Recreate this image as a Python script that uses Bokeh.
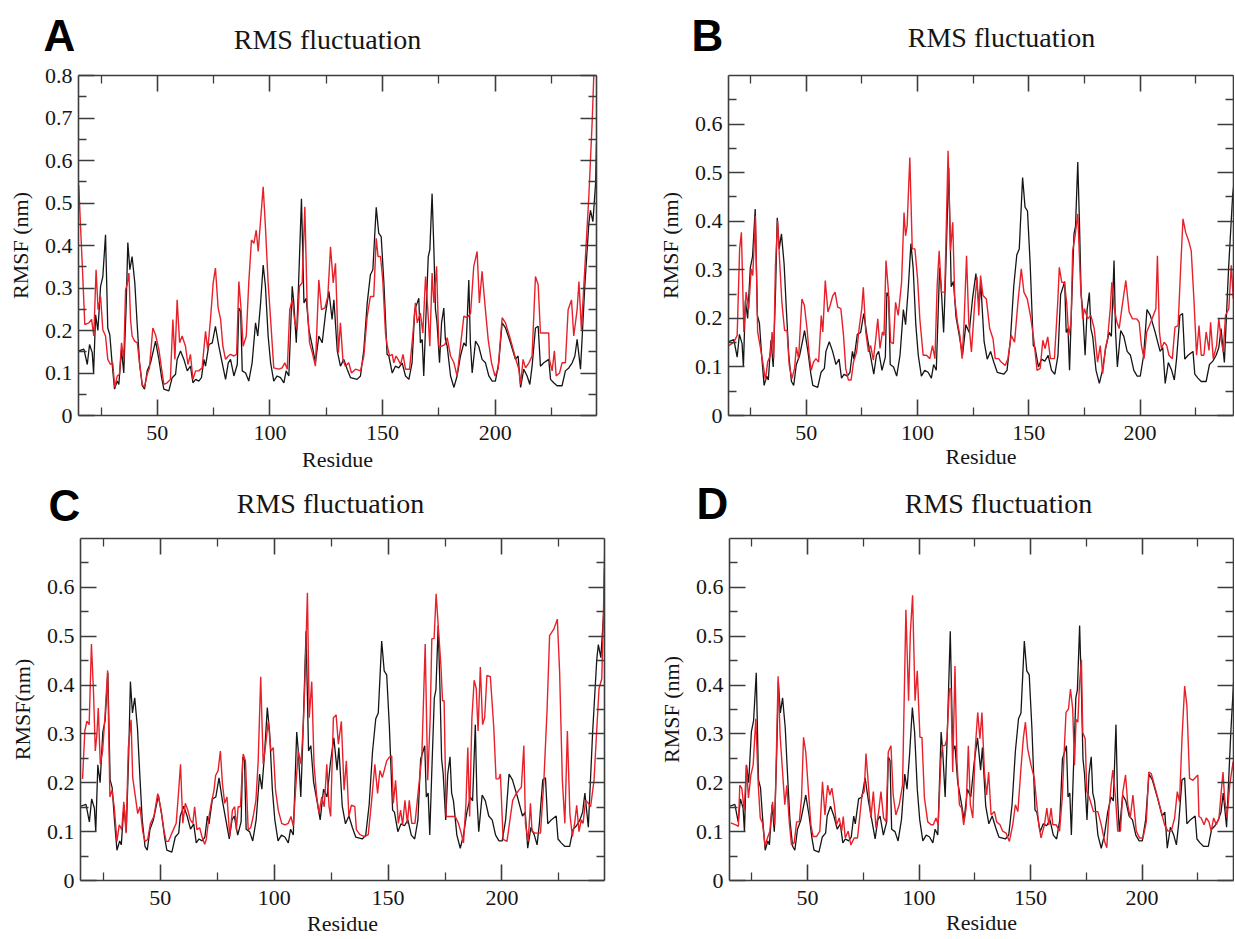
import math
from bokeh.plotting import figure
from bokeh.models import Range1d, FixedTicker, LinearAxis, Label, CustomJSTickFormatter
from bokeh.layouts import row, column
from bokeh.embed import file_html
from bokeh.resources import INLINE

# ---------------- data ----------------
residue_black = [
    15.1, 17.4, 18.9, 19.9, 21.1, 21.7, 22.6, 23.6, 24.8, 25.8,
    27.0, 28.0, 28.9, 29.9, 31.0, 32.2, 32.9, 34.1, 35.1, 36.2,
    36.9, 37.8, 38.8, 40.0, 41.1, 42.1, 43.3, 44.3, 45.5, 47.0,
    49.2, 50.7, 51.9, 52.9, 55.1, 56.6, 58.1, 58.8, 60.3, 61.8,
    63.3, 64.7, 65.8, 67.0, 68.4, 69.6, 70.7, 71.4, 72.9, 74.4,
    75.8, 77.3, 78.8, 80.3, 81.5, 82.5, 84.0, 85.5, 86.2, 87.0,
    87.7, 89.2, 90.6, 92.1, 93.6, 94.6, 95.8, 97.0, 98.0, 99.2,
    100.3, 101.7, 103.2, 104.7, 106.2, 107.2, 108.4, 109.9, 110.6, 111.7,
    112.6, 114.0, 115.1, 116.1, 117.3, 118.8, 120.2, 121.7, 123.2, 124.7,
    126.2, 127.6, 128.4, 129.9, 131.3, 132.8, 134.3, 135.8, 138.7, 140.2,
    141.7, 143.2, 144.6, 145.7, 147.2, 148.3, 149.4, 150.6, 152.0, 152.8,
    154.3, 155.7, 157.2, 158.7, 160.2, 161.7, 163.1, 164.3, 165.4, 166.1,
    166.8, 167.6, 168.3, 169.1, 170.3, 171.0, 172.0, 172.8, 173.5, 174.2,
    175.3, 176.2, 177.2, 177.9, 178.7, 180.2, 181.7, 183.1, 184.6, 186.1,
    187.1, 188.3, 189.0, 189.8, 191.3, 192.7, 194.2, 195.7, 197.2, 198.7,
    200.1, 201.6, 203.1, 204.6, 206.8, 209.0, 210.2, 211.3, 212.7, 214.2,
    215.4, 216.4, 217.9, 219.1, 220.1, 221.6, 223.8, 224.6, 226.0, 227.5,
    229.7, 231.2, 232.7, 234.2, 235.4, 236.4, 237.9, 239.8, 241.6, 242.3,
    243.4, 244.6, 245.0,
]
rmsf_black = [
    0.152, 0.156, 0.120, 0.167, 0.148, 0.100, 0.237, 0.200, 0.304, 0.327,
    0.425, 0.206, 0.190, 0.124, 0.062, 0.081, 0.073, 0.155, 0.100, 0.265,
    0.407, 0.343, 0.374, 0.312, 0.210, 0.124, 0.070, 0.062, 0.105, 0.124,
    0.175, 0.132, 0.089, 0.062, 0.058, 0.089, 0.097, 0.132, 0.152, 0.132,
    0.105, 0.116, 0.077, 0.085, 0.081, 0.089, 0.132, 0.116, 0.167, 0.171,
    0.210, 0.163, 0.124, 0.085, 0.124, 0.132, 0.093, 0.120, 0.253, 0.245,
    0.105, 0.100, 0.081, 0.124, 0.218, 0.187, 0.261, 0.354, 0.304, 0.187,
    0.124, 0.081, 0.093, 0.089, 0.077, 0.105, 0.093, 0.304, 0.265, 0.171,
    0.292, 0.510, 0.265, 0.276, 0.202, 0.163, 0.124, 0.187, 0.171, 0.241,
    0.292, 0.226, 0.272, 0.152, 0.116, 0.132, 0.109, 0.089, 0.085, 0.093,
    0.155, 0.265, 0.331, 0.343, 0.490, 0.429, 0.421, 0.312, 0.144, 0.140,
    0.100, 0.116, 0.112, 0.124, 0.093, 0.085, 0.124, 0.249, 0.265, 0.276,
    0.171, 0.179, 0.093, 0.210, 0.374, 0.390, 0.522, 0.390, 0.249, 0.218,
    0.124, 0.218, 0.253, 0.179, 0.163, 0.093, 0.066, 0.093, 0.140, 0.171,
    0.163, 0.319, 0.171, 0.100, 0.175, 0.163, 0.132, 0.124, 0.093, 0.081,
    0.081, 0.124, 0.218, 0.206, 0.171, 0.132, 0.140, 0.066, 0.109, 0.093,
    0.073, 0.116, 0.206, 0.210, 0.116, 0.124, 0.132, 0.085, 0.077, 0.070,
    0.070, 0.105, 0.112, 0.124, 0.140, 0.179, 0.109, 0.304, 0.452, 0.483,
    0.456, 0.546, 0.640,
]

residue_red_a = [
    15.1, 16.9, 17.8, 19.6, 20.8, 21.8, 22.8, 23.7, 24.8, 25.8,
    27.0, 28.0, 29.2, 30.2, 31.1, 32.2, 33.2, 34.1, 35.1, 35.9,
    36.6, 37.4, 38.1, 38.8, 39.9, 41.1, 42.1, 43.3, 44.3, 45.5,
    46.5, 48.0, 49.2, 50.7, 51.9, 52.9, 54.4, 55.8, 56.9, 57.8,
    58.8, 59.9, 61.0, 62.5, 63.6, 64.7, 65.8, 67.0, 68.4, 69.9,
    71.4, 72.4, 73.6, 74.8, 75.8, 77.0, 78.1, 79.1, 80.3, 81.5,
    82.5, 84.0, 85.2, 86.2, 87.2, 88.1, 89.5, 90.6, 91.8, 92.9,
    93.9, 94.8, 95.8, 97.0, 98.0, 99.2, 100.3, 101.7, 104.0, 105.4,
    106.6, 107.7, 108.8, 109.9, 111.1, 112.1, 113.1, 114.3, 115.5, 116.5,
    117.6, 118.8, 120.2, 121.7, 122.9, 124.4, 125.7, 126.9, 128.1, 129.1,
    130.4, 131.3, 132.4, 133.5, 135.0, 136.2, 138.0, 140.2, 141.7, 143.2,
    144.6, 146.1, 147.2, 148.0, 149.1, 150.1, 151.3, 152.0, 153.1, 154.3,
    155.0, 156.0, 156.9, 158.0, 159.1, 160.2, 162.0, 163.4, 164.6, 165.4,
    166.8, 167.9, 169.1, 170.1, 171.0, 172.0, 172.8, 174.0, 175.0, 176.2,
    177.7, 178.7, 180.2, 181.7, 183.1, 184.6, 186.1, 187.6, 189.1, 190.5,
    192.0, 193.0, 194.2, 195.4, 196.9, 198.4, 199.9, 201.3, 203.1, 204.6,
    206.8, 209.0, 210.5, 211.3, 212.4, 213.5, 215.0, 216.4, 217.9, 219.1,
    220.1, 223.8, 224.1, 225.3, 226.3, 227.1, 228.6, 229.7, 231.2, 232.4,
    233.9, 234.9, 236.4, 237.2, 238.3, 240.1, 241.6, 243.1, 243.8, 245.0,
]
rmsf_red_a = [
    0.542, 0.327, 0.214, 0.218, 0.226, 0.187, 0.343, 0.249, 0.280, 0.202,
    0.187, 0.132, 0.120, 0.124, 0.066, 0.093, 0.097, 0.171, 0.132, 0.296,
    0.308, 0.335, 0.226, 0.187, 0.175, 0.171, 0.124, 0.073, 0.066, 0.097,
    0.112, 0.206, 0.190, 0.155, 0.109, 0.073, 0.077, 0.085, 0.226, 0.132,
    0.272, 0.171, 0.187, 0.163, 0.120, 0.144, 0.085, 0.105, 0.105, 0.112,
    0.198, 0.155, 0.226, 0.312, 0.347, 0.253, 0.226, 0.163, 0.132, 0.140,
    0.144, 0.140, 0.144, 0.315, 0.249, 0.163, 0.187, 0.312, 0.413, 0.405,
    0.436, 0.386, 0.456, 0.538, 0.444, 0.312, 0.226, 0.112, 0.109, 0.112,
    0.124, 0.109, 0.249, 0.272, 0.218, 0.202, 0.304, 0.312, 0.491, 0.265,
    0.171, 0.148, 0.116, 0.319, 0.249, 0.253, 0.280, 0.397, 0.312, 0.358,
    0.148, 0.218, 0.132, 0.116, 0.124, 0.100, 0.109, 0.105, 0.140, 0.234,
    0.280, 0.280, 0.417, 0.374, 0.374, 0.319, 0.194, 0.167, 0.140, 0.144,
    0.124, 0.140, 0.132, 0.120, 0.144, 0.109, 0.109, 0.187, 0.265, 0.218,
    0.241, 0.194, 0.327, 0.249, 0.163, 0.335, 0.265, 0.351, 0.163, 0.163,
    0.167, 0.183, 0.140, 0.124, 0.093, 0.163, 0.234, 0.230, 0.241, 0.351,
    0.386, 0.265, 0.339, 0.265, 0.179, 0.124, 0.093, 0.109, 0.230, 0.218,
    0.179, 0.136, 0.109, 0.073, 0.132, 0.112, 0.124, 0.140, 0.327, 0.308,
    0.194, 0.194, 0.132, 0.105, 0.152, 0.093, 0.100, 0.124, 0.124, 0.249,
    0.272, 0.187, 0.249, 0.315, 0.202, 0.374, 0.515, 0.694, 0.800, 0.850,
]

residue_red_b = [
    15.2, 17.4, 18.9, 20.0, 20.8, 21.9, 22.9, 24.1, 25.2, 25.9,
    27.1, 28.1, 29.3, 30.4, 31.6, 32.6, 33.8, 34.6, 35.3, 36.1,
    37.1, 38.0, 39.0, 40.2, 41.3, 42.3, 43.5, 44.7, 45.5, 46.5,
    48.0, 49.1, 50.3, 51.3, 52.2, 53.2, 54.3, 55.5, 56.7, 57.4,
    58.5, 59.7, 60.7, 61.9, 62.9, 64.1, 65.5, 66.7, 67.7, 68.9,
    70.1, 71.2, 72.6, 73.7, 74.9, 75.6, 76.7, 77.9, 78.9, 80.1,
    81.2, 82.1, 83.1, 84.2, 84.9, 85.8, 86.8, 87.9, 89.1, 90.1,
    91.3, 92.8, 93.9, 94.6, 95.3, 96.5, 97.6, 98.8, 100.0, 101.0,
    102.5, 104.0, 105.5, 106.7, 107.8, 108.8, 109.7, 110.7, 112.2, 113.7,
    114.8, 115.8, 116.7, 117.9, 119.0, 120.0, 120.9, 122.0, 123.0, 124.2,
    125.7, 126.7, 127.5, 128.3, 129.4, 130.9, 132.4, 133.9, 134.9, 136.4,
    137.6, 139.4, 140.6, 142.1, 143.6, 145.1, 146.6, 147.8, 149.3, 150.7,
    152.2, 153.7, 155.1, 156.3, 157.3, 158.5, 159.7, 161.5, 163.0, 163.7,
    164.8, 166.0, 167.0, 167.9, 169.0, 169.7, 170.8, 172.0, 173.2, 174.2,
    175.0, 176.4, 177.9, 179.4, 180.9, 182.1, 183.2, 184.4, 185.4, 186.6,
    187.3, 188.4, 189.6, 190.6, 191.8, 193.6, 195.1, 196.6, 198.5, 199.6,
    200.6, 201.8, 203.0, 204.8, 207.1, 207.8, 208.7, 209.6, 210.8, 212.0,
    213.0, 214.5, 215.7, 217.1, 218.3, 219.3, 220.5, 222.0, 223.0, 224.2,
    225.4, 226.5, 227.5, 228.7, 229.7, 231.0, 231.7, 232.9, 234.4, 235.4,
    236.5, 237.4, 238.4, 239.9, 241.0, 241.9, 242.5,
]
rmsf_red_b = [
    0.144, 0.151, 0.165, 0.343, 0.377, 0.172, 0.254, 0.220, 0.302, 0.288,
    0.411, 0.172, 0.141, 0.110, 0.073, 0.110, 0.124, 0.172, 0.117, 0.309,
    0.401, 0.316, 0.233, 0.175, 0.175, 0.103, 0.076, 0.097, 0.141, 0.117,
    0.240, 0.227, 0.179, 0.124, 0.093, 0.110, 0.117, 0.110, 0.206, 0.172,
    0.278, 0.213, 0.227, 0.247, 0.254, 0.223, 0.220, 0.165, 0.097, 0.073,
    0.073, 0.110, 0.131, 0.179, 0.220, 0.264, 0.172, 0.131, 0.144, 0.114,
    0.158, 0.199, 0.138, 0.172, 0.165, 0.319, 0.261, 0.151, 0.148, 0.233,
    0.206, 0.274, 0.418, 0.370, 0.391, 0.531, 0.343, 0.343, 0.281, 0.199,
    0.124, 0.124, 0.117, 0.144, 0.117, 0.268, 0.339, 0.254, 0.254, 0.545,
    0.339, 0.398, 0.240, 0.192, 0.165, 0.117, 0.192, 0.329, 0.192, 0.131,
    0.233, 0.285, 0.206, 0.288, 0.247, 0.240, 0.179, 0.158, 0.117, 0.117,
    0.110, 0.103, 0.117, 0.165, 0.151, 0.233, 0.302, 0.254, 0.240, 0.206,
    0.158, 0.093, 0.097, 0.155, 0.138, 0.162, 0.117, 0.117, 0.233, 0.305,
    0.274, 0.274, 0.233, 0.165, 0.192, 0.339, 0.370, 0.415, 0.274, 0.199,
    0.220, 0.199, 0.206, 0.179, 0.110, 0.144, 0.086, 0.138, 0.158, 0.220,
    0.274, 0.220, 0.192, 0.179, 0.220, 0.278, 0.213, 0.199, 0.199, 0.192,
    0.144, 0.117, 0.172, 0.192, 0.220, 0.329, 0.172, 0.138, 0.151, 0.144,
    0.124, 0.117, 0.182, 0.185, 0.309, 0.405, 0.377, 0.357, 0.339, 0.240,
    0.124, 0.185, 0.124, 0.124, 0.172, 0.134, 0.192, 0.117, 0.144, 0.199,
    0.155, 0.131, 0.206, 0.220, 0.309, 0.240, 0.322,
]

residue_red_c = [
    15.9, 16.9, 17.8, 18.8, 19.8, 20.7, 21.5, 22.2, 22.8, 23.7,
    24.7, 25.7, 26.9, 27.9, 28.8, 29.8, 31.0, 32.0, 33.1, 34.0,
    35.0, 36.0, 37.2, 37.9, 38.9, 40.1, 41.1, 42.3, 43.3, 44.5,
    45.7, 47.2, 48.9, 50.4, 51.6, 52.6, 53.6, 55.1, 57.0, 58.0,
    58.9, 59.9, 61.0, 62.1, 63.2, 64.3, 65.1, 66.1, 67.3, 68.3,
    69.5, 70.2, 71.4, 72.4, 73.6, 74.3, 75.4, 76.4, 77.3, 78.3,
    79.3, 80.5, 81.7, 82.7, 83.4, 84.2, 85.2, 86.4, 87.4, 88.6,
    89.7, 90.8, 92.0, 93.0, 94.1, 95.2, 96.3, 97.4, 98.6, 99.6,
    100.6, 101.8, 103.3, 104.7, 106.2, 107.4, 108.4, 109.4, 110.6, 111.8,
    112.8, 113.5, 114.6, 115.4, 116.5, 117.5, 118.7, 119.7, 120.9, 122.0,
    123.1, 124.1, 124.8, 126.0, 127.2, 128.2, 129.5, 130.7, 131.7, 132.8,
    133.9, 135.4, 136.1, 137.6, 139.8, 141.3, 142.8, 144.2, 145.4, 146.4,
    147.5, 148.3, 149.4, 150.5, 151.6, 152.3, 153.3, 154.5, 155.5, 156.4,
    157.4, 158.5, 159.3, 160.4, 161.8, 163.3, 164.8, 166.3, 167.4, 168.5,
    169.2, 170.2, 171.1, 172.1, 173.2, 173.9, 174.6, 175.5, 177.3, 179.5,
    180.9, 182.1, 183.1, 184.2, 185.0, 185.8, 186.8, 187.8, 188.7, 189.5,
    190.5, 191.5, 192.4, 193.4, 194.9, 196.4, 197.4, 198.6, 199.3, 200.5,
    202.2, 203.7, 204.7, 205.9, 207.4, 208.5, 209.6, 210.3, 211.5, 212.5,
    213.2, 214.7, 216.9, 218.4, 219.8, 220.9, 222.8, 224.3, 225.3, 226.5,
    227.6, 228.7, 229.8, 230.9, 231.9, 232.8, 233.8, 234.8, 235.6, 236.7,
    237.9, 238.9, 240.4, 241.4, 242.6, 243.8, 244.5, 245.3,
]
rmsf_red_c = [
    0.208, 0.306, 0.326, 0.319, 0.484, 0.387, 0.265, 0.299, 0.353, 0.238,
    0.265, 0.333, 0.430, 0.171, 0.185, 0.151, 0.080, 0.114, 0.104, 0.161,
    0.097, 0.272, 0.329, 0.211, 0.178, 0.137, 0.151, 0.101, 0.080, 0.084,
    0.117, 0.131, 0.178, 0.144, 0.104, 0.080, 0.080, 0.097, 0.117, 0.178,
    0.238, 0.117, 0.158, 0.144, 0.124, 0.117, 0.151, 0.104, 0.108, 0.090,
    0.074, 0.084, 0.131, 0.158, 0.185, 0.215, 0.225, 0.265, 0.198, 0.158,
    0.171, 0.090, 0.144, 0.151, 0.104, 0.151, 0.151, 0.259, 0.245, 0.104,
    0.108, 0.131, 0.164, 0.245, 0.417, 0.238, 0.279, 0.326, 0.265, 0.272,
    0.185, 0.144, 0.117, 0.114, 0.117, 0.131, 0.111, 0.185, 0.265, 0.238,
    0.319, 0.407, 0.589, 0.333, 0.407, 0.238, 0.171, 0.137, 0.171, 0.151,
    0.238, 0.151, 0.131, 0.333, 0.339, 0.279, 0.326, 0.185, 0.245, 0.131,
    0.154, 0.151, 0.104, 0.094, 0.090, 0.094, 0.164, 0.238, 0.178, 0.225,
    0.211, 0.225, 0.245, 0.252, 0.255, 0.158, 0.205, 0.117, 0.144, 0.114,
    0.164, 0.117, 0.164, 0.117, 0.117, 0.185, 0.252, 0.484, 0.205, 0.333,
    0.495, 0.495, 0.587, 0.515, 0.440, 0.368, 0.368, 0.131, 0.131, 0.131,
    0.117, 0.097, 0.077, 0.158, 0.272, 0.131, 0.333, 0.410, 0.393, 0.306,
    0.437, 0.319, 0.333, 0.420, 0.417, 0.313, 0.208, 0.208, 0.218, 0.084,
    0.080, 0.131, 0.164, 0.175, 0.185, 0.191, 0.276, 0.117, 0.080, 0.158,
    0.100, 0.097, 0.097, 0.205, 0.350, 0.501, 0.515, 0.535, 0.427, 0.205,
    0.117, 0.306, 0.137, 0.090, 0.117, 0.154, 0.100, 0.124, 0.117, 0.164,
    0.158, 0.151, 0.205, 0.292, 0.393, 0.413, 0.541, 0.720,
]

residue_red_d = [
    15.6, 17.8, 19.0, 19.6, 20.5, 21.6, 22.6, 23.5, 24.6, 25.6,
    26.8, 27.9, 28.8, 29.8, 31.0, 32.0, 33.1, 34.3, 35.3, 36.1,
    36.8, 37.7, 38.8, 39.8, 40.7, 41.8, 42.8, 44.0, 45.1, 46.3,
    47.3, 48.2, 49.2, 50.3, 51.5, 52.5, 54.0, 55.5, 56.7, 57.8,
    59.0, 60.0, 60.9, 62.0, 63.0, 64.2, 65.3, 66.0, 66.9, 68.2,
    69.4, 70.9, 72.4, 73.5, 74.4, 75.4, 76.2, 77.4, 78.4, 79.5,
    80.7, 81.9, 82.9, 84.1, 85.2, 86.2, 87.4, 88.4, 89.6, 91.1,
    92.6, 94.1, 95.3, 96.1, 97.1, 98.2, 99.2, 100.4, 101.3, 102.4,
    103.9, 105.4, 106.4, 107.6, 108.6, 109.8, 110.6, 111.6, 112.5, 113.6,
    114.3, 115.1, 116.1, 117.0, 118.1, 119.1, 120.0, 121.1, 122.1, 123.0,
    124.1, 125.1, 126.3, 127.3, 128.2, 129.3, 130.3, 131.2, 132.3, 133.8,
    134.8, 136.3, 137.5, 139.0, 140.5, 142.0, 143.2, 144.3, 145.8, 146.8,
    147.7, 148.7, 150.2, 151.7, 152.8, 153.7, 154.7, 156.2, 157.3, 158.2,
    159.2, 160.0, 161.5, 163.0, 164.2, 165.2, 165.9, 167.0, 167.9, 168.9,
    169.7, 170.4, 171.2, 171.9, 172.8, 173.4, 174.5, 175.2, 176.4, 178.2,
    180.2, 181.7, 183.2, 184.2, 185.1, 186.1, 186.9, 188.1, 189.1, 190.3,
    191.4, 192.6, 193.6, 194.7, 195.9, 197.4, 198.9, 200.4, 201.9, 203.0,
    204.1, 206.3, 208.6, 210.1, 211.6, 213.1, 214.6, 215.8, 216.8, 217.9,
    219.1, 220.1, 221.3, 222.8, 225.0, 225.5, 226.5, 227.8, 228.8, 230.0,
    231.0, 232.1, 233.3, 234.5, 235.5, 236.3, 237.0, 238.1, 239.3, 240.8,
    241.5,
]
rmsf_red_d = [
    0.118, 0.114, 0.111, 0.195, 0.189, 0.144, 0.236, 0.169, 0.216, 0.236,
    0.331, 0.195, 0.128, 0.118, 0.070, 0.087, 0.101, 0.161, 0.114, 0.276,
    0.418, 0.297, 0.222, 0.155, 0.195, 0.120, 0.073, 0.077, 0.120, 0.120,
    0.169, 0.293, 0.263, 0.189, 0.114, 0.090, 0.090, 0.101, 0.202, 0.134,
    0.195, 0.175, 0.189, 0.155, 0.114, 0.128, 0.101, 0.131, 0.087, 0.101,
    0.073, 0.087, 0.087, 0.134, 0.175, 0.182, 0.260, 0.189, 0.128, 0.182,
    0.107, 0.141, 0.182, 0.128, 0.120, 0.263, 0.276, 0.175, 0.134, 0.155,
    0.195, 0.554, 0.368, 0.507, 0.584, 0.368, 0.429, 0.293, 0.293, 0.169,
    0.120, 0.114, 0.114, 0.128, 0.114, 0.249, 0.276, 0.276, 0.290, 0.392,
    0.392, 0.222, 0.439, 0.243, 0.155, 0.148, 0.114, 0.148, 0.276, 0.155,
    0.128, 0.263, 0.344, 0.290, 0.344, 0.222, 0.175, 0.222, 0.134, 0.141,
    0.120, 0.114, 0.101, 0.097, 0.080, 0.114, 0.155, 0.141, 0.236, 0.293,
    0.324, 0.270, 0.236, 0.209, 0.155, 0.114, 0.087, 0.114, 0.148, 0.114,
    0.148, 0.114, 0.114, 0.101, 0.169, 0.276, 0.344, 0.351, 0.392, 0.351,
    0.236, 0.330, 0.324, 0.398, 0.452, 0.303, 0.290, 0.182, 0.169, 0.141,
    0.141, 0.114, 0.080, 0.067, 0.141, 0.195, 0.226, 0.169, 0.101, 0.101,
    0.182, 0.216, 0.155, 0.128, 0.175, 0.101, 0.087, 0.087, 0.120, 0.222,
    0.219, 0.182, 0.141, 0.114, 0.101, 0.101, 0.128, 0.182, 0.161, 0.290,
    0.398, 0.358, 0.209, 0.205, 0.216, 0.131, 0.128, 0.114, 0.128, 0.120,
    0.101, 0.128, 0.114, 0.128, 0.182, 0.222, 0.169, 0.128, 0.195, 0.243,
    0.195,
]

x_major = [50, 100, 150, 200]
x_minor = [25, 75, 125, 175, 225]
y_major_a = [0, 0.1, 0.2, 0.3, 0.4, 0.5, 0.6, 0.7, 0.8]
y_minor_a = [0.05, 0.15, 0.25, 0.35, 0.45, 0.55, 0.65, 0.75]
y_major_bcd = [0, 0.1, 0.2, 0.3, 0.4, 0.5, 0.6]
y_minor_bcd = [0.05, 0.15, 0.25, 0.35, 0.45, 0.55, 0.65]

# ---------------- style ----------------
SERIF = "Liberation Serif"
SANS = "Liberation Sans"
INK = "#151515"
BOX = "#3c3c3c"
RED = "#e8202a"
TITLE_PX = 28
LETTER_PX = 44


def style_axis(ax, ticker, labelled):
    ax.ticker = ticker
    ax.axis_line_color = BOX
    ax.axis_line_width = 1.6
    ax.major_tick_in = 16
    ax.major_tick_out = 0
    ax.minor_tick_in = 8
    ax.minor_tick_out = 0
    ax.major_tick_line_color = BOX
    ax.major_tick_line_width = 1.6
    ax.minor_tick_line_color = BOX
    ax.minor_tick_line_width = 1.3
    if labelled:
        ax.major_label_text_font = SERIF
        ax.major_label_text_font_size = "22px"
        ax.major_label_text_color = INK
        ax.axis_label_text_font = SERIF
        ax.axis_label_text_font_size = "22px"
        ax.axis_label_text_font_style = "normal"
        ax.axis_label_text_color = INK
    else:
        ax.formatter = CustomJSTickFormatter(code="return '';")
        ax.major_label_text_font_size = "0px"
        ax.major_label_standoff = 0


def make_panel(cfg, red_x, red_y):
    fx, fy, fw, fh = cfg["fig"]
    l, t, r, b = cfg["frame"]
    p = figure(width=fw, height=fh, title=None,
               x_range=Range1d(15, cfg["x_end"]), y_range=Range1d(0, cfg["y_end"]),
               x_axis_type=None, y_axis_type=None,
               output_backend="svg", toolbar_location=None,
               min_border_left=l - fx, min_border_right=fx + fw - r,
               min_border_top=t - fy, min_border_bottom=fy + fh - b)
    p.outline_line_color = None
    p.background_fill_color = "white"
    p.border_fill_color = "white"

    left = LinearAxis(axis_label=cfg["ytext"])
    style_axis(left, FixedTicker(ticks=cfg["y_major"], minor_ticks=cfg["y_minor"]), True)
    left.formatter = CustomJSTickFormatter(code="return tick == 0 ? '0' : tick.toFixed(1);")
    left.major_label_standoff = 6
    left.axis_label_standoff = 9
    p.add_layout(left, "left")

    below = LinearAxis(axis_label="Residue")
    style_axis(below, FixedTicker(ticks=x_major, minor_ticks=x_minor), True)
    below.major_label_standoff = cfg["tick_gap"]
    below.axis_label_standoff = cfg["label_gap"]
    p.add_layout(below, "below")

    right = LinearAxis()
    style_axis(right, FixedTicker(ticks=cfg["y_major"], minor_ticks=cfg["y_minor"]), False)
    p.add_layout(right, "right")

    above = LinearAxis()
    style_axis(above, FixedTicker(ticks=x_major, minor_ticks=x_minor), False)
    p.add_layout(above, "above")

    p.line(residue_black, rmsf_black, line_color=INK, line_width=1.3)
    p.line(red_x, red_y, line_color=RED, line_width=1.4)
    return p


def make_header(cfg):
    fx, fy, fw, fh = cfg["head"]
    h = figure(width=fw, height=fh, title=None,
               x_range=Range1d(0, fw), y_range=Range1d(fh, 0),
               x_axis_type=None, y_axis_type=None,
               output_backend="svg", toolbar_location=None, min_border=0)
    h.outline_line_color = None
    h.background_fill_color = "white"
    h.border_fill_color = "white"
    # labels are anchored at their vertical middle; shift from the wanted baseline
    lx, ly = cfg["letter"]
    h.add_layout(Label(x=lx - fx, y=ly - fy - 0.345 * LETTER_PX, text=cfg["name"], text_font=SANS,
                       text_font_style="bold", text_font_size=f"{LETTER_PX}px", text_color="#000000",
                       text_align="center", text_baseline="middle"))
    tx, ty = cfg["title"]
    h.add_layout(Label(x=tx - fx, y=ty - fy - 0.34 * TITLE_PX, text="RMS fluctuation", text_font=SERIF,
                       text_font_size=f"{TITLE_PX}px", text_color=INK,
                       text_align="center", text_baseline="middle"))
    return h


LEFT_W = 650
RIGHT_W = 584

panel_a = dict(name="A", head=(0, 0, LEFT_W, 60), fig=(0, 60, LEFT_W, 418), frame=(78, 75, 596, 416),
               x_end=245, y_end=0.8, y_major=y_major_a, y_minor=y_minor_a, ytext="RMSF (nm)",
               letter=(59, 50), title=(327, 49), tick_gap=10, label_gap=4)
panel_b = dict(name="B", head=(LEFT_W, 0, RIGHT_W, 60), fig=(LEFT_W, 60, RIGHT_W, 418), frame=(728, 74, 1233, 415),
               x_end=242, y_end=0.7, y_major=y_major_bcd, y_minor=y_minor_bcd, ytext="RMSF (nm)",
               letter=(707, 50), title=(1001, 47), tick_gap=10, label_gap=1)
panel_c = dict(name="C", head=(0, 478, LEFT_W, 52), fig=(0, 530, LEFT_W, 408), frame=(80, 538, 604, 884),
               x_end=245, y_end=0.7, y_major=y_major_bcd, y_minor=y_minor_bcd, ytext="RMSF(nm)",
               letter=(64, 520), title=(330, 513), tick_gap=10, label_gap=3)
panel_d = dict(name="D", head=(LEFT_W, 478, RIGHT_W, 52), fig=(LEFT_W, 530, RIGHT_W, 408), frame=(729, 538, 1233, 883),
               x_end=241, y_end=0.7, y_major=y_major_bcd, y_minor=y_minor_bcd, ytext="RMSF (nm)",
               letter=(712, 518), title=(998, 513), tick_gap=10, label_gap=2)

pa = make_panel(panel_a, residue_red_a, rmsf_red_a)
pb = make_panel(panel_b, residue_red_b, rmsf_red_b)
pc = make_panel(panel_c, residue_red_c, rmsf_red_c)
pd = make_panel(panel_d, residue_red_d, rmsf_red_d)

layout = column(
    row(make_header(panel_a), make_header(panel_b)),
    row(pa, pb),
    row(make_header(panel_c), make_header(panel_d)),
    row(pc, pd),
)

with open("out.html", "w") as f:
    f.write(file_html(layout, INLINE))
